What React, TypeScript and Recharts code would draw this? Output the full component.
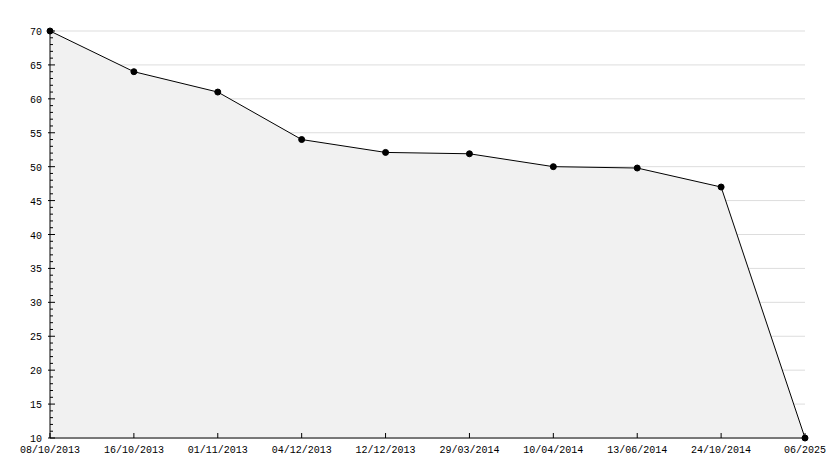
import React from 'react';
import { AreaChart, Area, XAxis, YAxis, CartesianGrid } from 'recharts';

const dates = [
  '08/10/2013', '16/10/2013', '01/11/2013', '04/12/2013', '12/12/2013',
  '29/03/2014', '10/04/2014', '13/06/2014', '24/10/2014', '06/2025',
];
const values = [70, 64, 61, 54, 52.1, 51.9, 50, 49.8, 47, 10];

const majorTicks = [10, 15, 20, 25, 30, 35, 40, 45, 50, 55, 60, 65, 70];
const allTicks = Array.from({ length: 61 }, (_, i) => 10 + i);

const FONT = '"Liberation Mono", monospace';

const data = dates.map((d, i) => ({ date: d, value: values[i] }));

const YTick = (props: any) => {
  const { x, y, payload } = props;
  const v = payload.value;
  const major = v % 5 === 0;
  return (
    <g>
      <line x1={major ? x - 2 : x} x2={major ? x + 5 : x + 3} y1={y} y2={y} stroke="#000" />
      {major && (
        <text x={x - 8} y={y} dy={4} textAnchor="end" fontSize={10} fontFamily={FONT} fill="#000">
          {v}
        </text>
      )}
    </g>
  );
};

const XTick = (props: any) => {
  const { x, y, payload } = props;
  return (
    <g>
      <line x1={x} x2={x} y1={y} y2={y - 5} stroke="#000" />
      <text x={x} y={y + 15} textAnchor="middle" fontSize={10} fontFamily={FONT} fill="#000">
        {payload.value}
      </text>
    </g>
  );
};

export default function App() {
  return (
    <div style={{ position: 'absolute', left: 0, top: 0, width: 834, height: 468, background: '#fff' }}>
      <AreaChart width={834} height={468} data={data} margin={{ top: 31, right: 29, bottom: 0, left: 0 }}>
        <CartesianGrid
          horizontal
          vertical={false}
          stroke="#dddddd"
          horizontalValues={majorTicks}
        />
        <XAxis
          dataKey="date"
          height={30}
          interval={0}
          tickSize={0}
          tickMargin={0}
          tick={<XTick />}
          axisLine={{ stroke: '#000' }}
          tickLine={false}
        />
        <YAxis
          type="number"
          domain={[10, 70]}
          ticks={allTicks}
          interval={0}
          width={50}
          tickSize={0}
          tickMargin={0}
          tick={<YTick />}
          axisLine={{ stroke: '#000' }}
          tickLine={false}
        />
        <Area
          type="linear"
          dataKey="value"
          stroke="#000"
          strokeWidth={1}
          fill="#f1f1f1"
          fillOpacity={1}
          baseValue={10}
          dot={{ r: 3, fill: '#000', stroke: '#000', strokeWidth: 1 }}
          isAnimationActive={false}
        />
      </AreaChart>
    </div>
  );
}
